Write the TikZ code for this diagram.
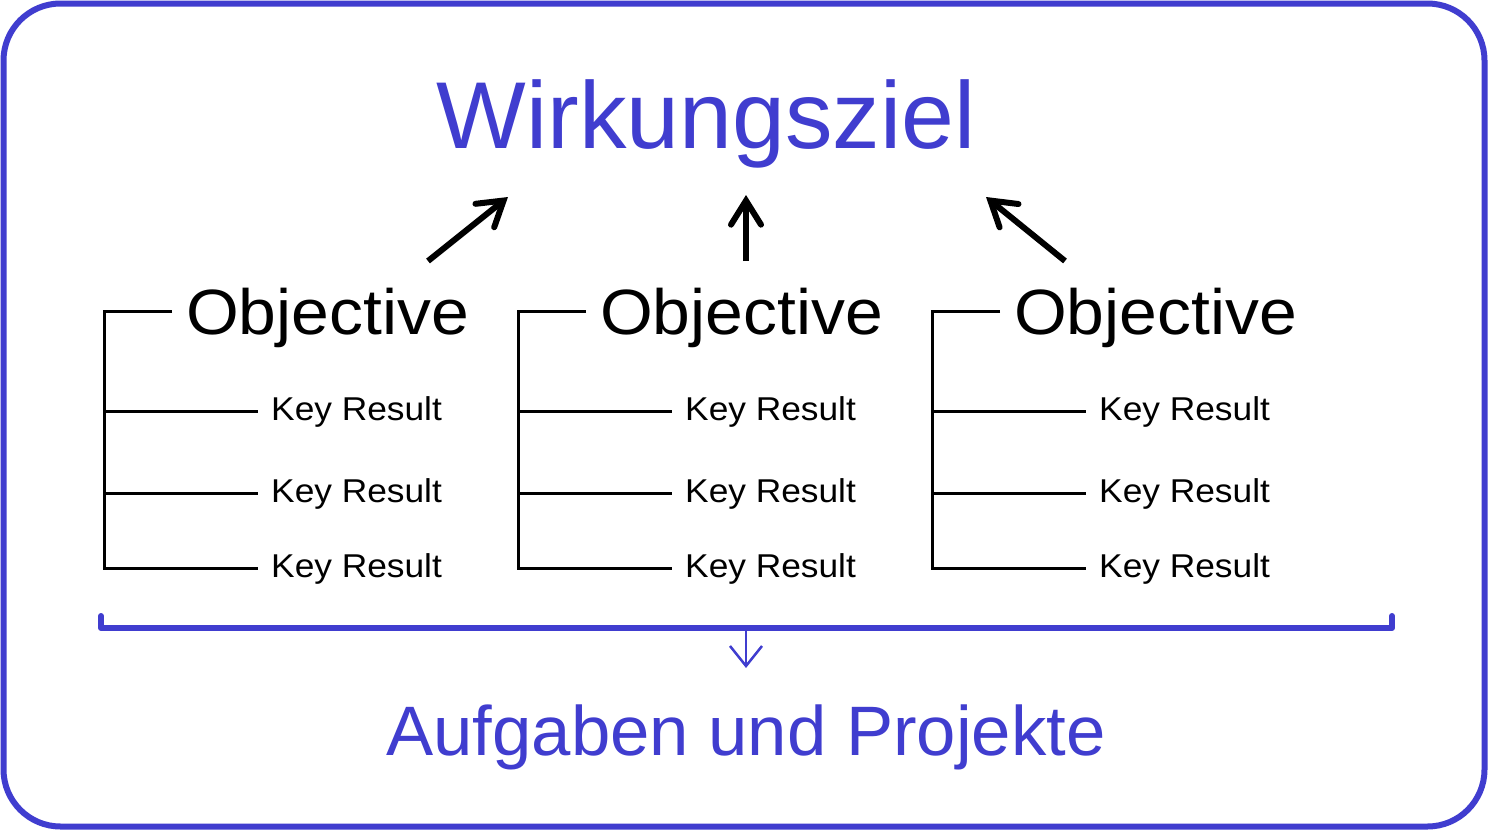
\documentclass[tikz,border=0pt]{standalone}
\usepackage{fontspec}
\setmainfont{Liberation Sans}
\newfontfamily\objfont[FakeStretch=1.06]{Liberation Sans}
\newfontfamily\krfont[FakeStretch=1.07]{Liberation Sans}
\newfontfamily\subfont[FakeStretch=1.01]{Liberation Sans}
\usetikzlibrary{arrows.meta}
\definecolor{okrblue}{RGB}{64,61,207}
\tikzset{
  frame/.style={draw=okrblue, line width=6pt, rounded corners=57pt},
  title/.style={inner sep=0pt, anchor=base, text=okrblue, font=\fontsize{95}{100}\selectfont},
  subtitle/.style={inner sep=0pt, anchor=base, text=okrblue, font=\subfont\fontsize{70}{80}\selectfont},
  objtext/.style={inner sep=0pt, anchor=base west, font=\objfont\fontsize{64}{70}\selectfont},
  krtext/.style={inner sep=0pt, anchor=base west, font=\krfont\fontsize{33}{36}\selectfont},
  tree/.style={draw=black, line width=3pt},
  bigarrow/.style={draw=black, line width=6pt, -{Straight Barb[length=24pt, width=30pt, line cap=round]}},
  brace/.style={draw=okrblue, line width=6pt, line cap=round, line join=round},
  smallarrow/.style={draw=okrblue, line width=2.5pt, -{Straight Barb[length=20pt, width=32pt]}}
}
\begin{document}
\begin{tikzpicture}[x=1pt, y=-1pt]
\useasboundingbox (0,0) rectangle (1488,830);
\fill[white] (0,0) rectangle (1488,830);
\draw[frame] (3.5,3.5) rectangle (1484.5,826.5);

\node[title] (ziel) at (706,148) {Wirkungsziel};

\foreach \i/\x in {1/104, 2/518, 3/932} {
  \coordinate (top\i) at (\x,311);
  \coordinate (tr\i) at (\x+68,311);
  \coordinate (bot\i) at (\x,568);
  \coordinate (k1\i) at (\x,411);
  \coordinate (k2\i) at (\x,493);
  \coordinate (e1\i) at (\x+154,411);
  \coordinate (e2\i) at (\x+154,493);
  \coordinate (e3\i) at (\x+154,568);
  \draw[tree] (tr\i) -- (top\i) -- (bot\i) -- (e3\i);
  \draw[tree] (k1\i) -- (e1\i);
  \draw[tree] (k2\i) -- (e2\i);
  \node[objtext] (obj\i) at (\x+82,334) {Objective};
  \node[krtext] (kra\i) at (\x+167,420) {Key Result};
  \node[krtext] (krb\i) at (\x+167,502) {Key Result};
  \node[krtext] (krc\i) at (\x+167,577) {Key Result};
}

\coordinate (a1s) at (428,261); \coordinate (a1e) at (508,197);
\coordinate (a2s) at (746,261); \coordinate (a2e) at (746,195);
\coordinate (a3s) at (1065,261); \coordinate (a3e) at (986,197);
\draw[bigarrow] (a1s) -- (a1e);
\draw[bigarrow] (a2s) -- (a2e);
\draw[bigarrow] (a3s) -- (a3e);

\coordinate (bl) at (101,616); \coordinate (blc) at (101,628);
\coordinate (br) at (1392,616); \coordinate (brc) at (1392,628);
\draw[brace] (bl) -- (blc) -- (brc) -- (br);
\coordinate (sas) at (746,630); \coordinate (sae) at (746,668);
\draw[smallarrow] (sas) -- (sae);

\node[subtitle] (tasks) at (746,755) {Aufgaben und Projekte};
\end{tikzpicture}
\end{document}
